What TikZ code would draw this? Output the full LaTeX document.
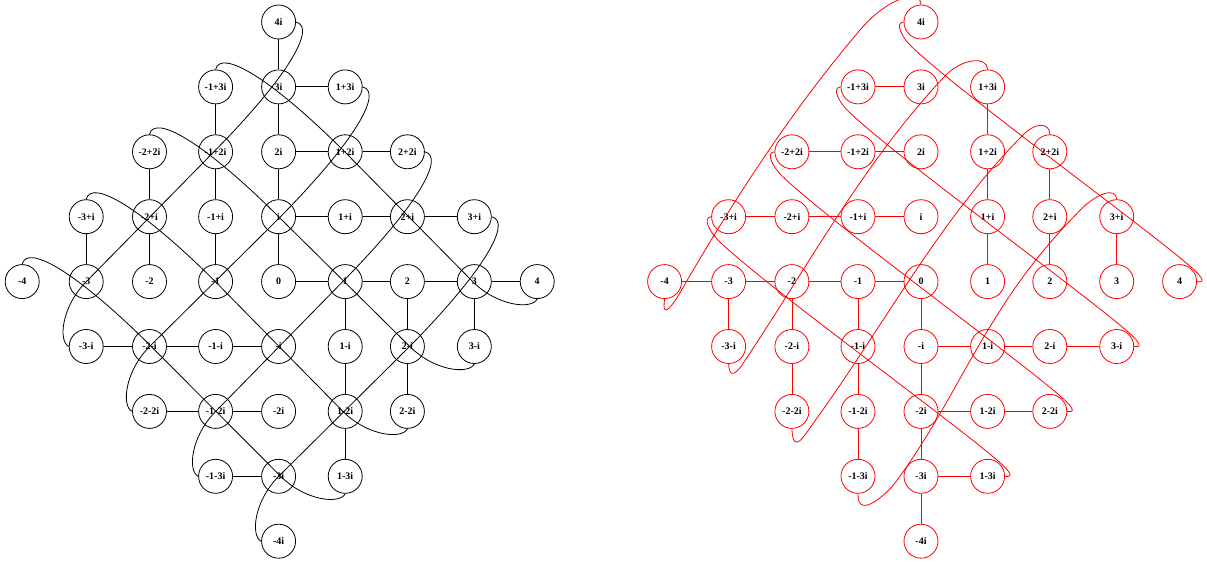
\documentclass[tikz,border=0pt]{standalone}
\usepackage{fontspec}
\setmainfont{Liberation Serif}
\usetikzlibrary{calc}
\tikzset{
  gnode/.style={circle, draw, line width=0.8pt, minimum size=34pt, inner sep=0.5pt,
    font=\bfseries\fontsize{10}{12}\selectfont, text=black},
  ledge/.style={line width=0.8pt, draw=black},
  redge/.style={line width=0.8pt, draw=red},
}
% left graph: z -> z+5-3i
\newcommand\curveA[2]{\draw[ledge] (#1.north) .. controls ($(#1)+(5,38)$) and ($(#1)+(54,10)$) .. ($(#1)+(129,-64.8)$) -- ($(#2)+(-64.5,0)$) .. controls ($(#2)+(-39.5,-25)$) and ($(#2)+(-5,-28)$) .. (#2.south);}
% left graph: z -> z-3-5i
\newcommand\curveL[2]{\draw[ledge] (#1.east) .. controls ($(#1)+(38,-5)$) and ($(#1)+(10,-54)$) .. ($(#1)+(-64.5,-129.6)$) -- ($(#2)+(0,64.8)$) .. controls ($(#2)+(-25,39.5)$) and ($(#2)+(-28,5)$) .. (#2.west);}
% right graph: z -> z+4-4i
\newcommand\curveRb[2]{\draw[redge] (#1.west) .. controls ($(#1)+(-27,-1)$) and ($(#1)+(-18,-16)$) .. ($(#1)+(-11,-23)$) .. controls ($(#1)+(31.4,-65.4)$) and ($(#2)+(-33,53.6)$) .. ($(#2)+(12,14)$) .. controls ($(#2)+(18,8.7)$) and ($(#2)+(29,-2)$) .. (#2.east);}

\begin{document}
\begin{tikzpicture}[x=1pt,y=1pt]
\fill[white] (0,0) rectangle (1207,-564);
\useasboundingbox (0,0) rectangle (1207,-564);
\def\nodelist{0/4/4i, -1/3/-1+3i, 0/3/3i, 1/3/1+3i, -2/2/-2+2i, -1/2/-1+2i, 0/2/2i, 1/2/1+2i, 2/2/2+2i,
 -3/1/-3+i, -2/1/-2+i, -1/1/-1+i, 0/1/i, 1/1/1+i, 2/1/2+i, 3/1/3+i,
 -4/0/-4, -3/0/-3, -2/0/-2, -1/0/-1, 0/0/0, 1/0/1, 2/0/2, 3/0/3, 4/0/4,
 -3/-1/-3-i, -2/-1/-2-i, -1/-1/-1-i, 0/-1/-i, 1/-1/1-i, 2/-1/2-i, 3/-1/3-i,
 -2/-2/-2-2i, -1/-2/-1-2i, 0/-2/-2i, 1/-2/1-2i, 2/-2/2-2i,
 -1/-3/-1-3i, 0/-3/-3i, 1/-3/1-3i, 0/-4/-4i}
\foreach \a/\b/\t in \nodelist {
  \pgfmathsetmacro\xx{{22.2,86.2,149.5,215.6,278.6,345.2,407.4,474.3,537.2}[int(\a+4)]}
  \pgfmathsetmacro\yy{-281.6+64.9*(\b)}
  \node[gnode] (L\a\b) at (\xx,\yy) {\t};
  \node[gnode, draw=red] (R\a\b) at (\xx+642.4,\yy) {\t};
}
% left straight edges
\foreach \p/\q in {04/03, 03/13, -13/-12, 03/02, 02/12, 12/22, -22/-21, -12/-11, 02/01,
  -31/-30, -21/-20, -11/-10, 01/11, 11/21, 21/31, 01/00, 00/10, 10/20, 20/30, 30/40,
  -3-1/-2-1, -2-1/-1-1, -1-1/0-1, 10/1-1, 20/2-1, 30/3-1, 1-1/1-2, 2-1/2-2,
  -2-2/-1-2, -1-2/0-2, 1-2/1-3, -1-3/0-3}
  \draw[ledge] (L\p) -- (L\q);
% left long edges
\curveA{L-13}{L40}
\curveA{L-22}{L3-1}
\curveA{L-31}{L2-2}
\curveA{L-40}{L1-3}
\curveL{L04}{L-3-1}
\curveL{L13}{L-2-2}
\curveL{L22}{L-1-3}
\curveL{L31}{L0-4}
% right straight edges
\foreach \p/\q in {-13/03, -22/-12, -12/02, 13/12, 12/11, 22/21, -31/-21, -21/-11, -11/01,
  11/10, 21/20, 31/30, -40/-30, -30/-20, -20/-10, -10/00, -30/-3-1, -20/-2-1, -10/-1-1,
  00/0-1, 0-1/1-1, 1-1/2-1, 2-1/3-1, -2-1/-2-2, -1-1/-1-2, 0-1/0-2, 0-2/1-2, 1-2/2-2,
  -1-2/-1-3, 0-2/0-3, 0-3/1-3, 0-3/0-4}
  \draw[redge] (R\p) -- (R\q);
% right long edges, z -> z+4-4i
\curveRb{R04}{R40}
\curveRb{R-13}{R3-1}
\curveRb{R-22}{R2-2}
\curveRb{R-31}{R1-3}
% right long edges, z -> z-4-4i
\draw[redge] (R04.north) .. controls (921,10) and (890,5) .. (860,-30) .. controls (792,-110) and (733.5,-200) .. (681,-291) .. controls (676,-299.7) and (661,-324) .. (R-40.south);
\draw[redge] (R13.north) .. controls (987.6,-56) and (962,-58) .. (945,-76) .. controls (866.3,-159) and (810.7,-261.4) .. (748,-356) .. controls (742.5,-364.3) and (730,-386) .. (R-3-1.south);
\draw[redge] (R22.north) .. controls (1049.8,-123) and (1036,-121) .. (1022,-136) .. controls (938.7,-220.5) and (882.2,-328.6) .. (812,-425) .. controls (806,-433) and (793,-457) .. (R-2-2.south);
\draw[redge] (R31.north) .. controls (1116.7,-187) and (1096,-192) .. (1076,-214.5) .. controls (985,-306.8) and (959.3,-397.2) .. (894.5,-483.6) .. controls (887.3,-493.2) and (857,-521) .. (R-1-3.south);
\end{tikzpicture}
\end{document}
